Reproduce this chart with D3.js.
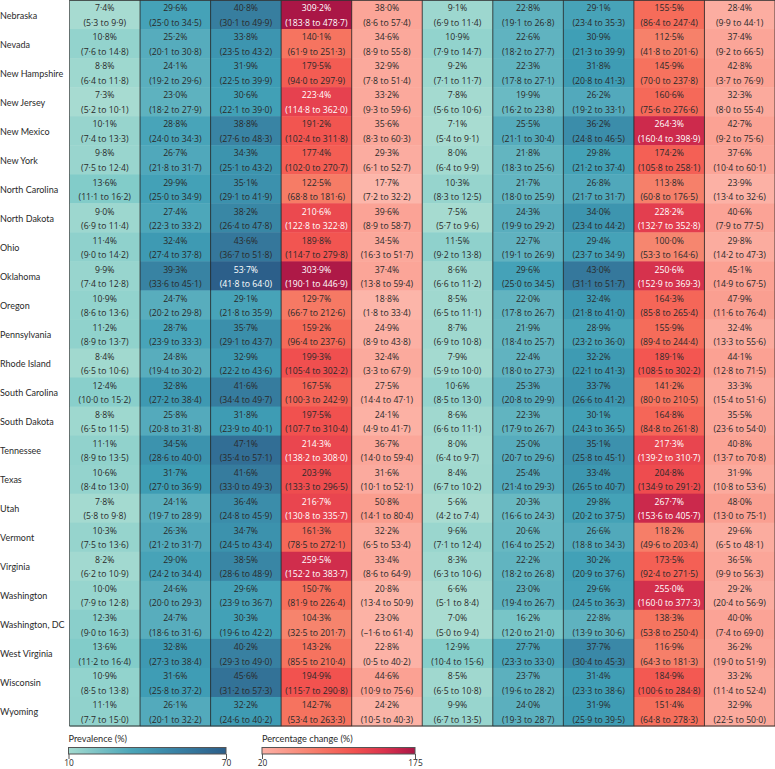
<!DOCTYPE html>
<html>
<head>
<meta charset="utf-8">
<script src="https://cdn.jsdelivr.net/npm/d3@7"></script>
<style>
  html, body { margin: 0; padding: 0; background: #fff; }
  svg { display: block; }
  text { font-family: "Open Sans", sans-serif; }
  .lab { font-family: Lato, sans-serif; }
</style>
</head>
<body>
<div id="chart"></div>
<script>
var states = ["Nebraska","Nevada","New Hampshire","New Jersey","New Mexico","New York","North Carolina","North Dakota","Ohio","Oklahoma","Oregon","Pennsylvania","Rhode Island","South Carolina","South Dakota","Tennessee","Texas","Utah","Vermont","Virginia","Washington","Washington, DC","West Virginia","Wisconsin","Wyoming"];

// each column: [estimate, lower, upper] per state, top to bottom
var col1 = [[7.4,5.3,9.9],[10.8,7.6,14.8],[8.8,6.4,11.8],[7.3,5.2,10.1],[10.1,7.4,13.3],[9.8,7.5,12.4],[13.6,11.1,16.2],[9.0,6.9,11.4],[11.4,9.0,14.2],[9.9,7.4,12.8],[10.9,8.6,13.6],[11.2,8.9,13.7],[8.4,6.5,10.6],[12.4,10.0,15.2],[8.8,6.5,11.5],[11.1,8.9,13.5],[10.6,8.4,13.0],[7.8,5.8,9.8],[10.3,7.5,13.6],[8.2,6.2,10.9],[10.0,7.9,12.8],[12.3,9.0,16.3],[13.6,11.2,16.4],[10.9,8.5,13.8],[11.1,7.7,15.0]];
var col2 = [[29.6,25.0,34.5],[25.2,20.1,30.8],[24.1,19.2,29.6],[23.0,18.2,27.9],[28.8,24.0,34.3],[26.7,21.8,31.7],[29.9,25.0,34.9],[27.4,22.3,33.2],[32.4,27.4,37.8],[39.3,33.6,45.1],[24.7,20.2,29.8],[28.7,23.9,33.3],[24.8,19.4,30.2],[32.8,27.2,38.4],[25.8,20.8,31.8],[34.5,28.6,40.0],[31.7,27.0,36.9],[24.1,19.7,28.9],[26.3,21.2,31.7],[29.0,24.2,34.4],[24.6,20.0,29.3],[24.7,18.6,31.6],[32.8,27.3,38.4],[31.6,25.8,37.2],[26.1,20.1,32.2]];
var col3 = [[40.8,30.1,49.9],[33.8,23.5,43.2],[31.9,22.5,39.9],[30.6,22.1,39.0],[38.8,27.6,48.3],[34.3,25.1,43.2],[35.1,29.1,41.9],[38.2,26.4,47.8],[43.6,36.7,51.8],[53.7,41.8,64.0],[29.1,21.8,35.9],[35.7,29.1,43.7],[32.9,22.2,43.6],[41.6,34.4,49.7],[31.8,23.9,40.1],[47.1,35.4,57.1],[41.6,33.0,49.3],[36.4,24.8,45.9],[34.7,24.5,43.4],[38.5,28.6,48.9],[29.6,23.9,36.7],[30.3,19.6,42.2],[40.2,29.3,49.0],[45.6,31.2,57.3],[32.2,24.6,40.2]];
var col4 = [[309.2,183.8,478.7],[140.1,61.9,251.3],[179.5,94.0,297.9],[223.4,114.8,362.0],[191.2,102.4,311.8],[177.4,102.0,270.7],[122.5,68.8,181.6],[210.6,122.8,322.8],[189.8,114.7,279.8],[303.9,190.1,446.9],[129.7,66.7,212.6],[159.2,96.4,237.6],[199.3,105.4,302.2],[167.5,100.3,242.9],[197.5,107.7,310.4],[214.3,138.2,308.0],[203.9,133.3,296.5],[216.7,130.8,335.7],[161.3,78.5,272.1],[259.5,152.2,383.7],[150.7,81.9,226.4],[104.3,32.5,201.7],[143.2,85.5,210.4],[194.9,115.7,290.8],[142.7,53.4,263.3]];
var col5 = [[38.0,8.6,57.4],[34.6,8.9,55.8],[32.9,7.8,51.4],[33.2,9.3,59.6],[35.6,8.3,60.3],[29.3,6.1,52.7],[17.7,7.2,32.2],[39.6,8.9,58.7],[34.5,16.3,51.7],[37.4,13.8,59.4],[18.8,1.8,33.4],[24.9,8.9,43.8],[32.4,3.3,67.9],[27.5,14.4,47.1],[24.1,4.9,41.7],[36.7,14.0,59.4],[31.6,10.1,52.1],[50.8,14.1,80.4],[32.2,6.5,53.4],[33.4,8.6,64.9],[20.8,13.4,50.9],[23.0,-1.6,61.4],[22.8,0.5,40.2],[44.6,10.9,75.6],[24.2,10.5,40.3]];
var col6 = [[9.1,6.9,11.4],[10.9,7.9,14.7],[9.2,7.1,11.7],[7.8,5.6,10.6],[7.1,5.4,9.1],[8.0,6.4,9.9],[10.3,8.3,12.5],[7.5,5.7,9.6],[11.5,9.2,13.8],[8.6,6.6,11.2],[8.5,6.5,11.1],[8.7,6.9,10.8],[7.9,5.9,10.0],[10.6,8.5,13.0],[8.6,6.6,11.1],[8.0,6.4,9.7],[8.4,6.7,10.2],[5.6,4.2,7.4],[9.6,7.1,12.4],[8.3,6.3,10.6],[6.6,5.1,8.4],[7.0,5.0,9.4],[12.9,10.4,15.6],[8.5,6.5,10.8],[9.9,6.7,13.5]];
var col7 = [[22.8,19.1,26.8],[22.6,18.2,27.7],[22.3,17.8,27.1],[19.9,16.2,23.8],[25.5,21.1,30.4],[21.8,18.3,25.6],[21.7,18.0,25.9],[24.3,19.9,29.2],[22.7,19.1,26.9],[29.6,25.0,34.5],[22.0,17.8,26.7],[21.9,18.4,25.7],[22.4,18.0,27.3],[25.3,20.8,29.9],[22.3,17.9,26.7],[25.0,20.7,29.6],[25.4,21.4,29.3],[20.3,16.6,24.3],[20.6,16.4,25.2],[22.2,18.2,26.8],[23.0,19.4,26.7],[16.2,12.0,21.0],[27.7,23.3,33.0],[23.7,19.6,28.2],[24.0,19.3,28.7]];
var col8 = [[29.1,23.4,35.3],[30.9,21.3,39.9],[31.8,20.8,41.3],[26.2,19.2,33.1],[36.2,24.8,46.5],[29.8,21.2,37.4],[26.8,21.7,31.7],[34.0,23.4,44.2],[29.4,23.7,34.9],[43.0,31.1,51.7],[32.4,21.8,41.0],[28.9,23.2,36.0],[32.2,22.1,41.3],[33.7,26.6,41.2],[30.1,24.3,36.5],[35.1,25.8,45.1],[33.4,26.5,40.7],[29.8,20.2,37.5],[26.6,18.8,34.3],[30.2,20.9,37.6],[29.6,24.5,36.3],[22.8,13.9,30.6],[37.7,30.4,45.3],[31.4,23.3,38.6],[31.9,25.9,39.5]];
var col9 = [[155.5,86.4,247.4],[112.5,41.8,201.6],[145.9,70.0,237.8],[160.6,75.6,276.6],[264.3,160.4,398.9],[174.2,105.8,258.1],[113.8,60.8,176.5],[228.2,132.7,352.8],[100.0,53.3,164.6],[250.6,152.9,369.3],[164.3,85.8,265.4],[155.9,89.4,244.4],[189.1,108.5,302.2],[141.2,80.0,210.5],[164.8,84.8,261.8],[217.3,139.2,310.7],[204.8,134.9,291.2],[267.7,153.6,405.7],[118.2,49.6,203.4],[173.5,92.4,271.5],[255.0,160.0,377.3],[138.3,53.8,250.4],[116.9,64.3,181.3],[184.9,100.6,284.8],[151.4,64.8,278.3]];
var col10 = [[28.4,9.9,44.1],[37.4,9.2,66.5],[42.8,3.7,76.9],[32.3,8.0,55.4],[42.7,9.2,75.6],[37.6,10.4,60.1],[23.9,13.4,32.6],[40.6,7.9,77.5],[29.8,14.2,47.3],[45.1,14.9,67.5],[47.9,11.6,76.4],[32.4,13.3,55.6],[44.1,12.8,71.5],[33.3,15.4,51.6],[35.5,23.6,54.0],[40.8,13.7,70.8],[31.9,10.8,53.6],[48.0,13.0,75.1],[29.6,6.5,48.1],[36.5,9.9,56.3],[29.2,20.4,56.9],[40.0,7.4,69.0],[36.2,19.0,51.9],[33.2,11.4,52.4],[32.9,22.5,50.0]];

var columns = [col1,col2,col3,col4,col5,col6,col7,col8,col9,col10];
// which scale each column is read against
var columnKinds = ["prev","prev","prev","change","change","prev","prev","prev","change","change"];

var prevStops = [7,14,25,31,41,54];
var prevColors = ["#a9dcd1","#80cbc9","#57acbd","#3f9fb6","#377d9f","#2c5e89"];
var changeStops = [18,40,100,150,195,225,265,310];
var changeColors = ["#fcb6aa","#fba396","#f6866f","#f6705c","#f2524f","#e5404f","#cd2a4c","#a91646"];

var legendPrevTicks = [10,70];
var legendChangeTicks = [20,175];

var width = 775, height = 769;
var gridLeft = 69.5, gridRight = 775, gridBottom = 726;

var svg = d3.select("#chart").append("svg").attr("width", width).attr("height", height);

var x = d3.scaleBand().domain(d3.range(columns.length)).range([gridLeft, gridRight]);
var y = d3.scaleBand().domain(states).range([0, gridBottom]);

var prevColor = d3.scaleLinear().domain(prevStops).range(prevColors).clamp(true);
var changeColor = d3.scaleLinear().domain(changeStops).range(changeColors).clamp(true);

function fmt(v) {
  return d3.format(".1f")(Math.abs(v)).replace(".", "\u00b7");
}
function fmtSigned(v) {
  return (v < 0 ? "\u2013" : "") + fmt(v);
}
function isDark(kind, v) {
  return kind == "prev" ? v >= 50 : v >= 210;
}

// state labels
svg.append("g").selectAll("text")
    .data(states)
  .enter().append("text")
    .attr("class", "lab")
    .attr("x", 0)
    .attr("y", function(d) { return y(d) + y.bandwidth() / 2 + 4; })
    .attr("font-size", 9)
    .attr("fill", "#2a2a2a")
    .text(function(d) { return d; });

columns.forEach(function(col, c) {
  var kind = columnKinds[c];
  var colour = kind == "prev" ? prevColor : changeColor;
  var g = svg.append("g");
  var cells = g.selectAll("g")
      .data(col)
    .enter().append("g")
      .attr("transform", function(d, i) { return "translate(" + x(c) + "," + y(states[i]) + ")"; });

  cells.append("rect")
      .attr("width", x.bandwidth() + 0.5)
      .attr("height", y.bandwidth() + 0.5)
      .attr("fill", function(d) { return colour(d[0]); });

  cells.append("text")
      .attr("x", x.bandwidth() / 2)
      .attr("y", 11.3)
      .attr("text-anchor", "middle")
      .attr("font-size", 8.7)
      .attr("fill", function(d) { return isDark(kind, d[0]) ? "#fff" : "#2a2a2a"; })
      .text(function(d) { return fmt(d[0]) + "%"; });

  cells.append("text")
      .attr("x", x.bandwidth() / 2)
      .attr("y", 25.7)
      .attr("text-anchor", "middle")
      .attr("font-size", 8.7)
      .attr("fill", function(d) { return isDark(kind, d[0]) ? "#fff" : "#2a2a2a"; })
      .text(function(d) { return "(" + fmtSigned(d[1]) + " to " + fmtSigned(d[2]) + ")"; });
});

// column rules
svg.append("g").selectAll("line")
    .data(d3.range(columns.length + 1))
  .enter().append("line")
    .attr("x1", function(d) { return d == columns.length ? gridRight : x(d); })
    .attr("x2", function(d) { return d == columns.length ? gridRight : x(d); })
    .attr("y1", 0)
    .attr("y2", gridBottom)
    .attr("stroke", "#222")
    .attr("stroke-opacity", function(d) { return d == 0 ? 0.6 : 0.8; })
    .attr("stroke-width", 1);

svg.append("line").attr("x1", gridLeft).attr("x2", gridRight).attr("y1", 0.3).attr("y2", 0.3).attr("stroke", "#333");
svg.append("line").attr("x1", gridLeft).attr("x2", gridRight).attr("y1", gridBottom).attr("y2", gridBottom).attr("stroke", "#333");

// colour legends
var defs = svg.append("defs");
function legend(id, title, ticks, colour, x0, x1) {
  var scale = d3.scaleLinear().domain(ticks).range([x0, x1]);
  var grad = defs.append("linearGradient").attr("id", id);
  var stops = d3.range(0, 1.01, 0.1);
  grad.selectAll("stop").data(stops).enter().append("stop")
      .attr("offset", function(d) { return d; })
      .attr("stop-color", function(d) { return colour(d); });

  var g = svg.append("g");
  g.append("text").attr("class", "lab").attr("x", x0).attr("y", 742).attr("font-size", 9.2).attr("fill", "#2a2a2a").text(title);
  g.append("rect").attr("x", x0).attr("y", 747.5).attr("width", x1 - x0).attr("height", 6.5)
      .attr("fill", "url(#" + id + ")").attr("stroke", "#555").attr("stroke-width", 1);

  var axis = d3.axisBottom(scale).tickValues(ticks).tickSize(5).tickPadding(1).tickFormat(d3.format("d"));
  var ag = g.append("g").attr("transform", "translate(0,754)").call(axis);
  ag.select(".domain").remove();
  ag.selectAll("line").attr("stroke", "#555");
  ag.selectAll("text").attr("font-size", 8.4).attr("fill", "#2a2a2a").style("font-family", '"Open Sans", sans-serif');
}
legend("gradPrev", "Prevalence (%)", legendPrevTicks, d3.scaleLinear().domain([0,0.4,0.65,1]).range(["#a4dbd0","#4ba5b8","#3a86a8","#2c5e89"]), 68.5, 226);
legend("gradChange", "Percentage change (%)", legendChangeTicks, d3.scaleLinear().domain([0,0.35,0.6,0.82,1]).range(["#fcb1a6","#f77d69","#f2524f","#d8304d","#a91646"]), 262, 415);
</script>
</body>
</html>
